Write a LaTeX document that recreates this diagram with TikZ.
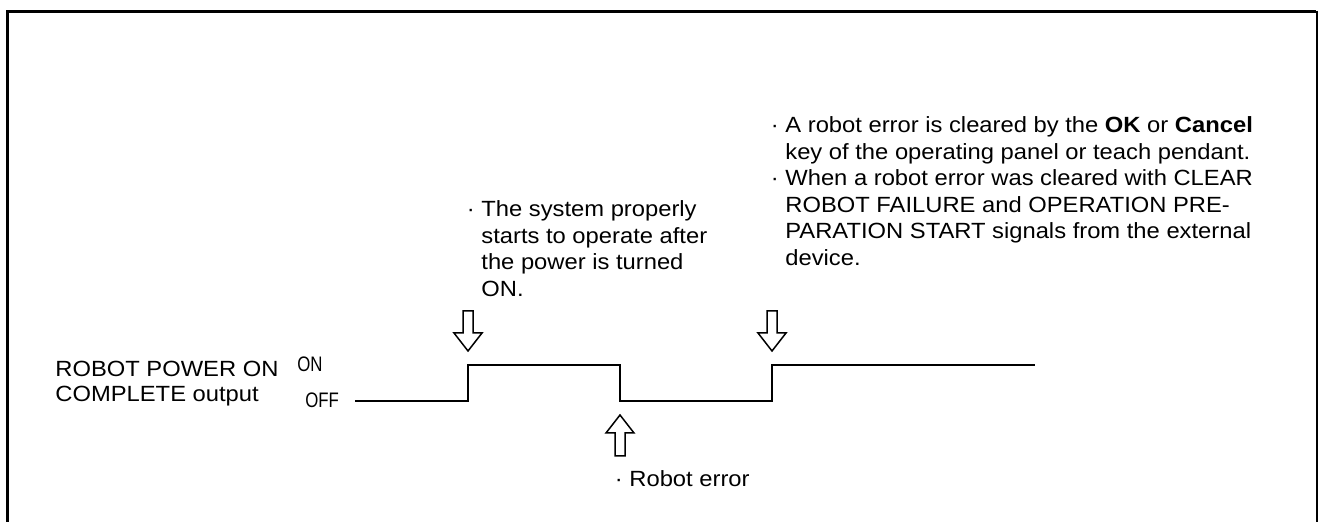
\documentclass[tikz,border=0pt]{standalone}
\usepackage{fontspec}
\setmainfont{Liberation Sans}[FakeStretch=1.08]
\newfontfamily\narrowfont{Liberation Sans}[FakeStretch=0.8]
\newcommand\notefont{\fontsize{11}{13.25}\selectfont}
\newcommand\labelfont{\fontsize{11}{12.5}\selectfont}
\begin{document}
\begin{tikzpicture}[x=0.5pt,y=-0.5pt,
  frame/.style={line width=1.5pt},
  sig/.style={line width=0.75pt, line join=miter},
  hollow/.style={line width=0.75pt, line join=miter, fill=white},
  note/.style={anchor=base west, inner sep=0pt, font=\notefont},
  lab/.style={anchor=base west, inner sep=0pt, font=\labelfont},
  lvl/.style={anchor=base west, inner sep=0pt, font=\narrowfont\fontsize{10.5}{12}\selectfont},
  downarr/.pic={\draw[hollow] (-5,0) -- (5,0) -- (5,22) -- (14,22) -- (0,40) -- (-14,22) -- (-5,22) -- cycle;},
  uparr/.pic={\draw[hollow] (-5,41) -- (5,41) -- (5,18) -- (14,18) -- (0,0) -- (-14,18) -- (-5,18) -- cycle;}
]
\useasboundingbox (0,0) rectangle (1318,522);
% frame
\draw[frame] (7.5,522) -- (7.5,11.5) -- (1316,11.5);
\draw[line width=1pt] (1316.5,10.75) -- (1316.5,522);
% labels
\node[lab] (lbl) at (55,377) {\begin{tabular}[t]{@{}l@{}}ROBOT POWER ON\\COMPLETE output\end{tabular}};
\node[lvl] (on) at (297,372) {ON};
\node[lvl] (off) at (305,408) {OFF};
% signal
\coordinate (s0) at (355,401);
\coordinate (r1) at (468,401);
\coordinate (h1) at (468,365);
\coordinate (f1) at (620,365);
\coordinate (l1) at (620,401);
\coordinate (r2) at (772,401);
\coordinate (h2) at (772,365);
\coordinate (e) at (1035,365);
\draw[sig] (s0) -- (r1) -- (h1) -- (f1) -- (l1) -- (r2) -- (h2) -- (e);
% arrows
\pic at (468,311) {downarr};
\pic at (772,311) {downarr};
\pic at (620,415) {uparr};
% notes
\node[note] (n1) at (481,217) {\begin{tabular}[t]{@{}l@{}}\llap{· }The system properly\\starts to operate after\\the power is turned\\ON.\end{tabular}};
\node[note] (n2) at (785,133) {\begin{tabular}[t]{@{}l@{}}\llap{· }A robot error is cleared by the \textbf{OK} or \textbf{Cancel}\\key of the operating panel or teach pendant.\\\llap{· }When a robot error was cleared with CLEAR\\ROBOT FAILURE and OPERATION PRE-\\PARATION START signals from the external\\device.\end{tabular}};
\node[note] (n3) at (629,487) {\llap{· }Robot error};
\end{tikzpicture}
\end{document}
